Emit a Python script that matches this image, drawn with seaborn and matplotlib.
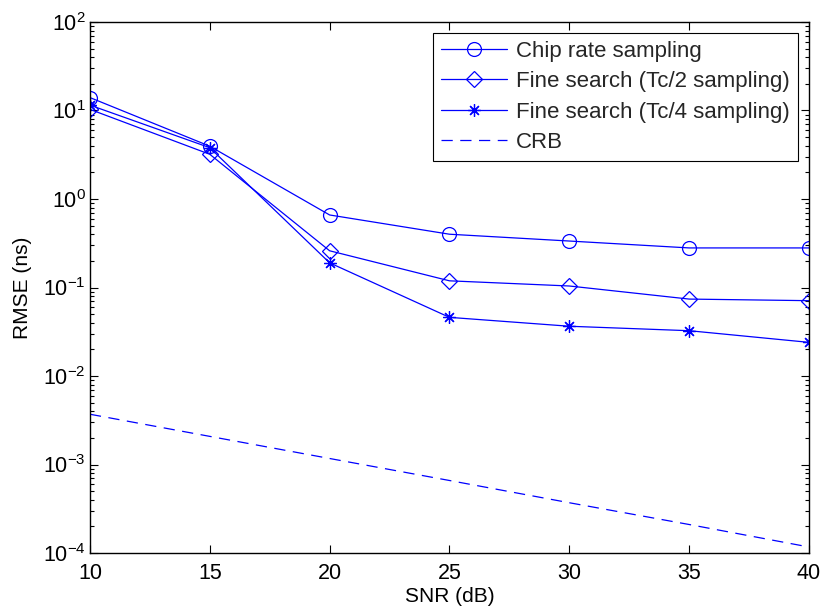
import numpy as np
import pandas as pd
import matplotlib
matplotlib.use("Agg")
import matplotlib.pyplot as plt
import seaborn as sns

snr = [10, 15, 20, 25, 30, 35, 40]
chip_rate = [14.0, 3.95, 0.66, 0.40, 0.335, 0.28, 0.28]
fine_tc2 = [10.3, 3.2, 0.26, 0.119, 0.104, 0.074, 0.071]
fine_tc4 = [11.5, 3.8, 0.19, 0.046, 0.0365, 0.0325, 0.024]
crb = [0.0037, 0.00208, 0.00117, 0.00066, 0.00037, 0.00021, 0.000117]
labels = ["Chip rate sampling", "Fine search (Tc/2 sampling)",
          "Fine search (Tc/4 sampling)", "CRB"]

sns.set_style("ticks")
plt.rcParams['font.family'] = ['Liberation Sans', 'DejaVu Sans']
plt.rcParams['mathtext.fontset'] = 'custom'
plt.rcParams['mathtext.rm'] = 'Liberation Sans'
plt.rcParams['mathtext.it'] = 'Liberation Sans:italic'

fig = plt.figure(figsize=(8.25, 6.14), dpi=100)
ax = fig.add_axes([0.109, 0.0993, 0.8716, 0.8649])

blue = '#0000FF'
sns.lineplot(x=snr, y=chip_rate, ax=ax, color=blue, lw=0.9, marker='o', ms=10,
             mfc='none', mec=blue, mew=0.9, label=labels[0])
sns.lineplot(x=snr, y=fine_tc2, ax=ax, color=blue, lw=0.9, marker='D', ms=8.5,
             mfc='none', mec=blue, mew=0.9, label=labels[1])
sns.lineplot(x=snr, y=fine_tc4, ax=ax, color=blue, lw=0.9, marker=(8, 2, 0), ms=9,
             mfc='none', mec=blue, mew=0.9, label=labels[2])
sns.lineplot(x=snr, y=crb, ax=ax, color=blue, lw=0.9, dashes=False, label=labels[3])
ax.lines[-1].set_linestyle((0, (9, 6)))

ax.set_yscale('log')
ax.set_xlim(10, 40)
ax.set_ylim(1e-4, 1e2)
ax.set_xticks(snr)
ax.set_xticklabels([str(s) for s in snr])
ax.set_yticks([1e-4, 1e-3, 1e-2, 1e-1, 1e0, 1e1, 1e2])
ax.tick_params(which='both', direction='in', top=True, right=True, labelsize=15.5, colors='black')
ax.tick_params(which='major', length=6, width=0.8)
ax.tick_params(which='minor', length=3, width=0.8)
ax.tick_params(axis='x', pad=7)
ax.tick_params(axis='y', pad=3)
ax.yaxis.set_minor_locator(matplotlib.ticker.LogLocator(base=10, subs=np.arange(2, 10), numticks=20))
for s in ax.spines.values():
    s.set_linewidth(1.0)
    s.set_color('black')
ax.set_xlabel("SNR (dB)", fontsize=15, labelpad=2, color='black')
ax.set_ylabel("RMSE (ns)", fontsize=15, labelpad=8, color='black')

leg = ax.legend(loc='upper right', fontsize=16, frameon=True, fancybox=False,
                edgecolor='black', framealpha=1, handlelength=3.0, handletextpad=0.4,
                borderpad=0.35, labelspacing=0.42, borderaxespad=0.5)
leg.get_frame().set_linewidth(0.8)

fig.savefig("out.png", dpi=100)
